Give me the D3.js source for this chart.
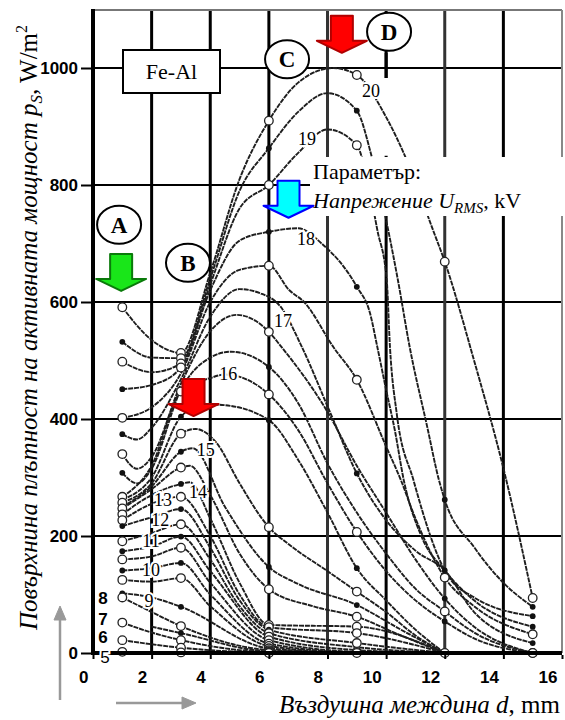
<!DOCTYPE html>
<html><head><meta charset="utf-8">
<script src="https://cdn.jsdelivr.net/npm/d3@7"></script>
<style>body{margin:0;background:#fff}</style></head>
<body><svg id="c" width="565" height="720"></svg>
<script>
const xTicks=[0,2,4,6,8,10,12,14,16];
const yTicks=[0,200,400,600,800,1000];
// each point: [d (mm), p_S (W/m2), marker: 0 none, 1 open, 2 filled]
const curves=[
 {kv:"20",pts:[[1,591,1],[2,535,0],[3,513,1],[4,650,0],[5,810,0],[6,910,1],[7,975,0],[8.2,1000,0],[9,988,1],[10,916,0],[10.7,843,0],[11.6,723,0],[12,669,1],[13,500,0],[14,316,0],[15,94,1]]},
 {kv:"19.5",pts:[[1,532,2],[2,505,0],[3,504,1],[4,640,0],[5,790,0],[6,863,2],[7,925,0],[8,957,0],[9,927,2],[9.5,850,0],[10.07,723,0],[10.4,638,0],[10.8,524,0],[11.4,387,0],[11.8,296,0],[12,262,2],[13,181,0],[14,120,0],[15,79,2]]},
 {kv:"19",pts:[[1,498,1],[2,480,0],[3,495,1],[4,630,0],[5,760,0],[6,800,1],[7,855,0],[8,895,0],[9,868,1],[9.4,800,0],[9.7,723,0],[10.02,638,0],[10.13,524,0],[10.36,410,0],[10.93,296,0],[12,141,2],[13,95,0],[15,63,2]]},
 {kv:"18.5",pts:[[1,451,2],[2,458,0],[3,488,1],[4,620,0],[5,705,0],[6,720,2],[7,726,0],[7.8,700,0],[9,626,2],[9.45,581,0],[9.7,523,0],[10,450,0],[10.3,380,0],[10.6,296,0],[11.2,200,0],[12,141,0],[13,90,0],[15,45,2]]},
 {kv:"18",pts:[[1,402,1],[2,420,0],[3,478,0],[4,600,0],[5,655,0],[6,662,1],[6.7,620,0],[7.2,600,0],[8.2,523,0],[9,467,1],[10,353,0],[10.5,296,0],[11,230,0],[12,129,1],[13,80,0],[15,32,1]]},
 {kv:"17.5",pts:[[1,374,2],[1.5,365,0],[2,385,0],[3,468,0],[4,575,0],[5,622,0],[5.7,615,0],[6.4,592,0],[7.1,526,0],[8.1,410,0],[9,307,2],[10,227,0],[11,175,0],[12,141,0],[13,70,0],[15,17,2]]},
 {kv:"17",pts:[[1,340,1],[1.5,315,0],[2,335,0],[3,460,0],[4,550,0],[4.9,578,0],[6,549,1],[6.4,525,0],[8,412,0],[9,320,0],[10,240,0],[11,160,0],[12,93,2],[13,45,0],[15,0,1]]},
 {kv:"16.5",pts:[[1,308,2],[1.5,290,0],[2,315,0],[3,450,0],[4,505,0],[4.7,515,0],[6,489,2],[7,427,0],[8,324,0],[9,240,0],[10,170,0],[11,110,0],[12,71,1],[13,35,0],[15,0,0]]},
 {kv:"16",pts:[[1,267,1],[2,320,0],[3,447,1],[4,470,0],[4.5,476,0],[6,442,1],[7,381,0],[8,290,0],[9,207,1],[10,140,0],[11,90,0],[12,54,2],[13,25,0],[15,0,0]]},
 {kv:"15.5",pts:[[1,262,0],[2,300,0],[3,404,2],[3.8,425,0],[4.4,424,0],[6,398,2],[7,330,0],[8,240,0],[9,145,2],[10,90,0],[11,40,0],[12,0,0]]},
 {kv:"15",pts:[[1,257,1],[2,290,0],[3,375,1],[3.5,383,0],[4.2,360,0],[5,290,0],[6,215,1],[6.7,185,0],[8,140,0],[9,105,1],[10,70,0],[11,30,0],[12,0,0]]},
 {kv:"14.5",pts:[[1,250,0],[2,285,0],[3,344,2],[3.4,350,0],[4.5,250,0],[6,147,2],[7,118,0],[9,82,2],[10.5,40,0],[12,0,0]]},
 {kv:"14",pts:[[1,247,1],[2,280,0],[3,317,1],[3.3,320,0],[4,270,0],[5,170,0],[6,109,1],[7.5,80,0],[9,62,1],[10.5,30,0],[12,0,0]]},
 {kv:"13.5",pts:[[1,237,1],[2,270,0],[3,289,2],[3.3,292,0],[4,230,0],[5,120,0],[6,48,1],[9,45,1],[12,0,0]]},
 {kv:"13",pts:[[1,227,1],[2,255,0],[3,267,1],[4,200,0],[5,100,0],[6,44,1],[9,34,1],[12,0,0]]},
 {kv:"12.5",pts:[[1,217,2],[2,232,0],[3,246,2],[4,180,0],[5,90,0],[6,40,2],[9,17,1],[12,0,0]]},
 {kv:"12",pts:[[1,191,1],[2,205,0],[3,220,1],[4,160,0],[5,80,0],[6,34,1],[9,10,0],[12,0,0]]},
 {kv:"11.5",pts:[[1,174,2],[2,182,0],[3,199,2],[4,140,0],[6,28,1],[9,5,0],[12,0,0]]},
 {kv:"11",pts:[[1,160,1],[2,165,0],[3,180,1],[4,120,0],[6,22,1],[9,2,1],[12,0,0]]},
 {kv:"10.5",pts:[[1,141,2],[2,145,0],[3,154,2],[4,100,0],[6,16,1],[9,1,0],[12,0,0]]},
 {kv:"10",pts:[[1,125,1],[2,122,0],[3,128,1],[4,80,0],[6,12,1],[9,0,0],[12,0,0]]},
 {kv:"9.5",pts:[[1,102,2],[2,95,0],[3,79,2],[6,8,1],[9,0,0],[12,0,0]]},
 {kv:"9",pts:[[1,95,1],[2,70,0],[3,46,1],[6,5,1],[9,0,0],[12,0,0]]},
 {kv:"8.5",pts:[[2,45,0],[3,34,2],[6,3,1],[12,0,0]]},
 {kv:"8",pts:[[1,52,1],[2,35,0],[3,22,1],[6,2,1],[12,0,0]]},
 {kv:"7",pts:[[1,22,1],[3,9,1],[6,1,1],[12,0,0]]},
 {kv:"6",pts:[[1,2,1],[3,1,1],[6,0,1],[9,0,1],[12,0,1],[15,0,1]]}
];
// curve labels: text, d, p, style
const curveLabels=[
 ["5",0.41,-7,"b0"],["6",0.34,27,"b"],["7",0.34,58,"b"],["8",0.34,94,"b"],
 ["9",1.91,89,"s"],["10",1.98,142,"s"],["11",1.98,191,"s"],["12",2.29,227,"s"],
 ["13",2.39,262,"s"],["14",3.58,275,"s"],["15",3.85,347,"s"],["16",4.61,477,"s"],
 ["17",6.48,568,"s"],["18",7.27,708,"s"],["19",7.30,879,"s"],["20",9.48,961,"s"]
];
const letters=[["A",0.89,732],["B",3.24,667],["C",6.62,1015],["D",10.1,1062]];
const arrows=[ // d, tip p, fill, stroke
 [0.96,619,"#19e619","#0a7a0a"],[3.43,405,"#ff0000","#b00000"],
 [8.49,1026,"#ff0000","#b00000"],[6.67,744,"#00ffff","#0000ff"]
];

const svg=d3.select("#c");
const x=d3.scaleLinear().domain([0,16]).range([93,562]);
const y=d3.scaleLinear().domain([0,1000]).range([653,68]);
const yTop=y(1099);

// horizontal grid
svg.append("g").selectAll("line").data(yTicks.filter(v=>v>0)).join("line")
 .attr("x1",x(0)).attr("x2",x(16)).attr("y1",d=>y(d)).attr("y2",d=>y(d))
 .attr("stroke","#000").attr("stroke-width",1.8);
// vertical grid
svg.append("g").selectAll("line").data(xTicks.filter(v=>v>0&&v<16)).join("line")
 .attr("x1",d=>x(d)).attr("x2",d=>x(d)).attr("y1",yTop).attr("y2",y(0))
 .attr("stroke",d=>(d==8||d==12)?"#333":"#000").attr("stroke-width",3);
// gap on d=10 line
svg.append("rect").attr("x",x(10)-3).attr("y",y(1000)+10).attr("width",6).attr("height",y(850)-y(1000)-10).attr("fill","#fff");
// frame
svg.append("line").attr("x1",x(0)).attr("x2",x(16)).attr("y1",yTop).attr("y2",yTop).attr("stroke","#777").attr("stroke-width",2);
svg.append("line").attr("x1",x(16)).attr("x2",x(16)).attr("y1",yTop).attr("y2",y(0)).attr("stroke","#888").attr("stroke-width",2);

// curves
const line=d3.line().x(d=>x(d[0])).y(d=>y(d[1])).curve(d3.curveMonotoneX);
svg.append("g").selectAll("path").data(curves).join("path")
 .attr("d",c=>line(c.pts)).attr("fill","none").attr("stroke","#1e1e1e")
 .attr("stroke-width",1.9).attr("stroke-dasharray","5,0.9");
// markers
const marks=curves.flatMap(c=>c.pts.filter(p=>p[2]>0));
svg.append("g").selectAll("circle").data(marks).join("circle")
 .attr("cx",d=>x(d[0])).attr("cy",d=>y(d[1]))
 .attr("r",d=>d[2]==1?4.3:2.9)
 .attr("fill",d=>d[2]==1?"#fff":"#111")
 .attr("stroke",d=>d[2]==1?"#222":"none").attr("stroke-width",1.3);

// axes lines
svg.append("line").attr("x1",x(0)).attr("x2",x(0)).attr("y1",yTop-1).attr("y2",y(0)+2).attr("stroke","#000").attr("stroke-width",4);
svg.append("line").attr("x1",x(0)-2).attr("x2",x(16)).attr("y1",y(0)).attr("y2",y(0)).attr("stroke","#000").attr("stroke-width",4);

// y axis ticks + labels
const yAxis=d3.axisLeft(y).tickValues(yTicks).tickSize(10).tickPadding(3).tickFormat(d3.format("d"));
const gy=svg.append("g").attr("transform",`translate(${x(0)-2},0)`).call(yAxis);
gy.select(".domain").remove();
gy.selectAll("line").attr("stroke","#000").attr("stroke-width",2);
gy.selectAll("text").attr("font-family","Liberation Sans").attr("font-weight","bold").attr("font-size",17).attr("fill","#000");
// x axis ticks + labels (labels sit left of ticks as in original)
const xAxis=d3.axisBottom(x).tickValues(xTicks).tickSize(4).tickPadding(12).tickFormat(d3.format("d"));
const gx=svg.append("g").attr("transform",`translate(0,${y(0)+2})`).call(xAxis);
gx.select(".domain").remove();
gx.selectAll("line").attr("stroke","#000").attr("stroke-width",2);
gx.selectAll("text").attr("font-family","Liberation Sans").attr("font-weight","bold").attr("font-size",17).attr("fill","#000")
 .attr("text-anchor","end").attr("dx",-5);

// white box behind parameter text
svg.append("rect").attr("x",310).attr("y",y(800)-28).attr("width",255).attr("height",59).attr("fill","#fff");
svg.append("text").attr("x",313).attr("y",y(800)-6).attr("font-family","Liberation Serif").attr("font-size",22).text("Параметър:");
const t2=svg.append("text").attr("x",313).attr("y",y(800)+23).attr("font-family","Liberation Serif").attr("font-size",22);
t2.append("tspan").attr("font-style","italic").text("Напрежение U");
t2.append("tspan").attr("font-style","italic").attr("font-size",15).attr("dy",5).text("RMS");
t2.append("tspan").attr("dy",-5).text(", kV");

// Fe-Al box
svg.append("rect").attr("x",123).attr("y",50).attr("width",97).attr("height",43).attr("fill","#fff").attr("stroke","#000").attr("stroke-width",2);
svg.append("text").attr("x",171.5).attr("y",79).attr("text-anchor","middle").attr("font-family","Liberation Serif").attr("font-size",22).text("Fe-Al");

// curve labels
svg.append("g").selectAll("text").data(curveLabels).join("text")
 .attr("x",d=>x(d[1])).attr("y",d=>y(d[2])).attr("text-anchor","middle").attr("dominant-baseline","central")
 .attr("font-family",d=>d[3]=="s"?"Liberation Serif":"Liberation Sans")
 .attr("font-weight",d=>d[3]=="b"?"bold":"normal")
 .attr("font-size",d=>d[3]=="s"?18:17)
 .attr("stroke","#fff").attr("stroke-width",4).attr("paint-order","stroke").attr("fill","#000")
 .text(d=>d[0]);

// arrows
const aG=svg.append("g");
arrows.forEach(a=>{
 const cx=x(a[0]),ty=y(a[1]);
 const pts=[[cx-11,ty-37],[cx+11,ty-37],[cx+11,ty-12],[cx+25,ty-12],[cx,ty],[cx-25,ty-12],[cx-11,ty-12]];
 aG.append("polygon").attr("points",pts.map(p=>p.join(",")).join(" "))
  .attr("fill",a[2]).attr("stroke",a[3]).attr("stroke-width",2).attr("stroke-linejoin","round");
});

// letter ellipses
const lG=svg.append("g");
letters.forEach(l=>{
 lG.append("ellipse").attr("cx",x(l[1])).attr("cy",y(l[2])).attr("rx",22).attr("ry",19)
  .attr("fill","#fff").attr("stroke","#000").attr("stroke-width",2);
 lG.append("text").attr("x",x(l[1])).attr("y",y(l[2])+8).attr("text-anchor","middle")
  .attr("font-family","Liberation Serif").attr("font-weight","bold").attr("font-size",23).text(l[0]);
});
// small tick under D
svg.append("line").attr("x1",x(10)).attr("x2",x(10)).attr("y1",y(1062)+21).attr("y2",y(1000)+10).attr("stroke","#000").attr("stroke-width",3);

// y label
const yl=svg.append("text").attr("transform",`translate(37,630) rotate(-90)`)
 .attr("font-family","Liberation Serif").attr("font-size",25);
yl.append("tspan").attr("font-style","italic").text("Повърхнина плътност на активната мощност p");
yl.append("tspan").attr("font-style","italic").attr("font-size",17).attr("dy",5).text("S");
yl.append("tspan").attr("dy",-5).text(", W/m");
yl.append("tspan").attr("font-size",16).attr("dy",-10).text("2");
// x label
const xl=svg.append("text").attr("x",560).attr("y",713).attr("text-anchor","end")
 .attr("font-family","Liberation Serif").attr("font-size",25);
xl.append("tspan").attr("font-style","italic").text("Въздушна междина d");
xl.append("tspan").text(", mm");

// gray direction arrows
const gA=svg.append("g").attr("stroke","#999").attr("fill","#999");
gA.append("line").attr("x1",60).attr("x2",60).attr("y1",700).attr("y2",618).attr("stroke-width",2.5);
gA.append("polygon").attr("points","54,620 66,620 60,606");
gA.append("line").attr("x1",116).attr("x2",184).attr("y1",703).attr("y2",703).attr("stroke-width",2.5);
gA.append("polygon").attr("points","182,697 182,709 196,703");
</script></body></html>
